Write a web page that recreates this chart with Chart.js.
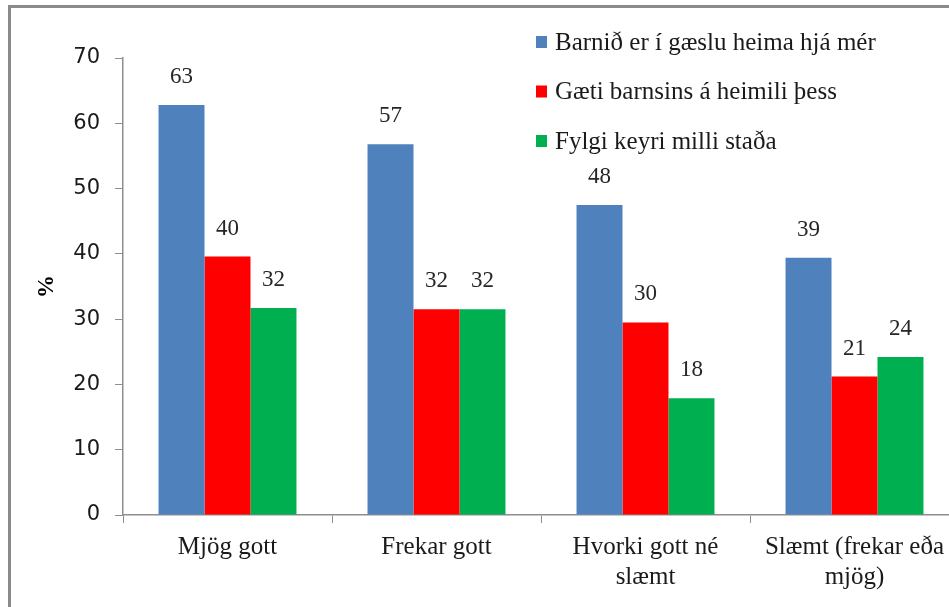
<!DOCTYPE html>
<html>
<head>
<meta charset="utf-8">
<script src="https://cdn.jsdelivr.net/npm/chart.js@4"></script>
<style>
  body { margin: 0; overflow: hidden; background: #fff; }
  #frame { position: absolute; left: 8px; top: 5px; width: 2000px; height: 2000px;
           border-left: 3px solid #8a8a8a; border-top: 3px solid #8a8a8a; }
  #chartWrap { position: absolute; left: 0; top: 0; }
</style>
</head>
<body>
<div id="frame"></div>
<div id="chartWrap"><canvas id="chart" width="970" height="607"></canvas></div>
<script>
const categories = ['Mjög gott', 'Frekar gott', ['Hvorki gott né', 'slæmt'], ['Slæmt (frekar eða', 'mjög)']];
const seriesNames = ['Barnið er í gæslu heima hjá mér', 'Gæti barnsins á heimili þess', 'Fylgi keyri milli staða'];
const homeCare = [62.8, 56.8, 47.5, 39.4];
const childHome = [39.6, 31.5, 29.5, 21.2];
const driver = [31.7, 31.5, 17.9, 24.2];
const colors = ['#4F81BD', '#FF0000', '#00B050'];
const yTicks = [0, 10, 20, 30, 40, 50, 60, 70];

const serif = "'Liberation Serif', serif";
const axisGray = '#8e8e8e';

// value labels above each bar
const barLabels = {
  id: 'barLabels',
  afterDatasetsDraw(chart) {
    const ctx = chart.ctx;
    ctx.save();
    ctx.font = '23px ' + serif;
    ctx.fillStyle = '#262626';
    ctx.textAlign = 'center';
    ctx.textBaseline = 'middle';
    chart.data.datasets.forEach((ds, i) => {
      chart.getDatasetMeta(i).data.forEach((bar, j) => {
        ctx.fillText(Math.round(ds.data[j]), bar.x, bar.y - 28);
      });
    });
    ctx.restore();
  }
};

// legend drawn inside the plot, top right
const insideLegend = {
  id: 'insideLegend',
  afterDraw(chart) {
    const ctx = chart.ctx;
    ctx.save();
    ctx.font = '25px ' + serif;
    ctx.textBaseline = 'middle';
    chart.data.datasets.forEach((ds, i) => {
      const y = 42 + i * 49.5;
      ctx.fillStyle = ds.backgroundColor;
      ctx.fillRect(536, y - 6, 11, 12);
      ctx.fillStyle = '#1a1a1a';
      ctx.fillText(ds.label, 555, y + 1);
    });
    ctx.restore();
  }
};

function draw() {
  const ctx = document.getElementById('chart').getContext('2d');
  new Chart(ctx, {
    type: 'bar',
    data: {
      labels: categories,
      datasets: [
        { label: seriesNames[0], data: homeCare, backgroundColor: colors[0] },
        { label: seriesNames[1], data: childHome, backgroundColor: colors[1] },
        { label: seriesNames[2], data: driver, backgroundColor: colors[2] }
      ]
    },
    options: {
      responsive: false,
      animation: false,
      devicePixelRatio: 1,
      layout: { padding: { left: 0, top: 58, right: 11, bottom: 0 } },
      datasets: { bar: { categoryPercentage: 0.66, barPercentage: 1 } },
      plugins: { legend: { display: false }, tooltip: { enabled: false } },
      scales: {
        x: {
          grid: { offset: true, drawOnChartArea: false, color: axisGray, tickLength: 8 },
          border: { color: axisGray, width: 1.5 },
          ticks: { font: { family: serif, size: 25, lineHeight: 1.2 }, color: '#1a1a1a', padding: 9, maxRotation: 0, autoSkip: false },
          afterFit(scale) { scale.height = 92; }
        },
        y: {
          min: 0, max: 70,
          afterBuildTicks(scale) { scale.ticks = yTicks.map(v => ({ value: v })); },
          grid: { drawOnChartArea: false, color: axisGray, tickLength: 8 },
          border: { color: axisGray, width: 1.5 },
          ticks: { font: { family: "'DejaVu Sans', sans-serif", size: 21 }, color: '#1a1a1a', padding: 15 },
          title: { display: true, text: '%', font: { family: serif, size: 23, weight: 'bold' }, color: '#000', padding: { top: 33, bottom: 0 } },
          afterFit(scale) { scale.width = 123; }
        }
      }
    },
    plugins: [barLabels, insideLegend]
  });
}

document.fonts.load("25px 'Liberation Serif'").then(draw, draw);
</script>
</body>
</html>
